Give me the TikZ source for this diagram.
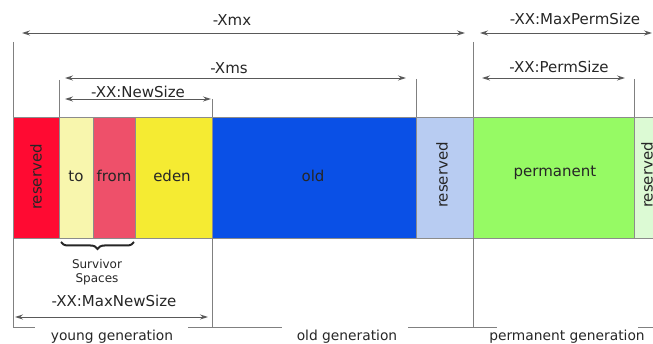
\documentclass[tikz,border=0pt]{standalone}
\usepackage{fontspec}
\setmainfont{DejaVu Sans}
\usetikzlibrary{arrows.meta,decorations.pathreplacing}

\definecolor{resred}{HTML}{FF0A32}
\definecolor{tocol}{HTML}{F8F6AD}
\definecolor{fromcol}{HTML}{EE506A}
\definecolor{edencol}{HTML}{F5EB32}
\definecolor{oldcol}{HTML}{0A50E6}
\definecolor{resblue}{HTML}{B8CCF2}
\definecolor{permcol}{HTML}{96FA64}
\definecolor{resgreen}{HTML}{DCFAD4}

\tikzset{
  dimline/.style={black!65, line width=0.9pt,
    {Stealth[length=8pt,width=5pt]}-{Stealth[length=8pt,width=5pt]}},
  guide/.style={black!50, line width=0.6pt},
  cell/.style={draw=black!45, line width=0.5pt},
  big/.style={font=\fontsize{15}{17}\selectfont, text=black!85},
  small/.style={font=\fontsize{12}{14}\selectfont, text=black!85, align=center}
}

\begin{document}
\begin{tikzpicture}[x=1pt, y=-1pt]
        \useasboundingbox (0,0) rectangle (653,344);
        % heap cells
        \foreach \xa/\xb/\col in {13/59/resred, 59/93/tocol, 93/135/fromcol,
            135/212/edencol, 212/416/oldcol, 416/473/resblue,
            473/634/permcol, 634/660/resgreen}
          \filldraw[cell, fill=\col] (\xa,117) rectangle (\xb,238);
        \node[big, rotate=90] (resyoung) at (36,177) {reserved};
        \node[big] (to) at (76,176) {to};
        \node[big] (from) at (114,176) {from};
        \node[big] (eden) at (172,176) {eden};
        \node[big] (old) at (313,176) {old};
        \node[big, rotate=90] (resold) at (442,175) {reserved};
        \node[big] (perm) at (555,173) {permanent};
        \node[big, rotate=90] (resperm) at (647,175) {reserved};
        % guide lines
        \coordinate (xmxL) at (13,42);    \coordinate (xmxR) at (473,42);
        \coordinate (xmsL) at (59,80);    \coordinate (xmsR) at (416,79);
        \coordinate (newR) at (212,99);   \coordinate (permR) at (634,79);
        \coordinate (youngB) at (13,327); \coordinate (newB) at (212,327);
        \coordinate (oldB) at (473,327);
        \draw[guide] (xmxL) -- (13,117) (13,238) -- (youngB);
        \draw[guide] (xmxR) -- (473,117) (473,238) -- (oldB);
        \draw[guide] (newR) -- (212,117) (212,238) -- (newB);
        \draw[guide] (xmsL) -- (59,117);
        \draw[guide] (xmsR) -- (416,117);
        \draw[guide] (permR) -- (634,117);
        % size arrows
        \node[big] (xmx) at (232,20) {-Xmx};
        \coordinate (a1) at (22,33);  \coordinate (a2) at (465,33);
        \draw[dimline] (a1) -- (a2);
        \node[big] (maxperm) at (575,19) {-XX:MaxPermSize};
        \coordinate (b1) at (480,33); \coordinate (b2) at (652,33);
        \draw[dimline] (b1) -- (b2);
        \node[big] (xms) at (229,68) {-Xms};
        \coordinate (c1) at (65,78);  \coordinate (c2) at (406,78);
        \draw[dimline] (c1) -- (c2);
        \node[big] (permsize) at (559,67) {-XX:PermSize};
        \coordinate (d1) at (482,78); \coordinate (d2) at (625,78);
        \draw[dimline] (d1) -- (d2);
        \node[big] (newsize) at (138,92) {-XX:NewSize};
        \coordinate (e1) at (65,99);  \coordinate (e2) at (211,99);
        \draw[dimline] (e1) -- (e2);
        \node[big] (maxnew) at (114,301) {-XX:MaxNewSize};
        \coordinate (f1) at (15,317); \coordinate (f2) at (208,317);
        \draw[dimline] (f1) -- (f2);
        % survivor spaces
        \draw[line width=2pt, black!85, decorate,
              decoration={brace, mirror, amplitude=7pt}]
          (61,242) -- (134,242);
        \node[small] (surv) at (97,272) {Survivor\\Spaces};
        % generations
        \draw[guide] (youngB) -- (35,327) (188,327) -- (282,327)
          (408,327) -- (497,327) (638,327) -- (653,327);
        \node[big, font=\fontsize{13.8}{16}\selectfont] (young) at (112,337) {young generation};
        \node[big, font=\fontsize{13.8}{16}\selectfont] (oldgen) at (347,337) {old generation};
        \node[big, font=\fontsize{13.8}{16}\selectfont] (permgen) at (567,337) {permanent generation};
      \end{tikzpicture}
\end{document}
